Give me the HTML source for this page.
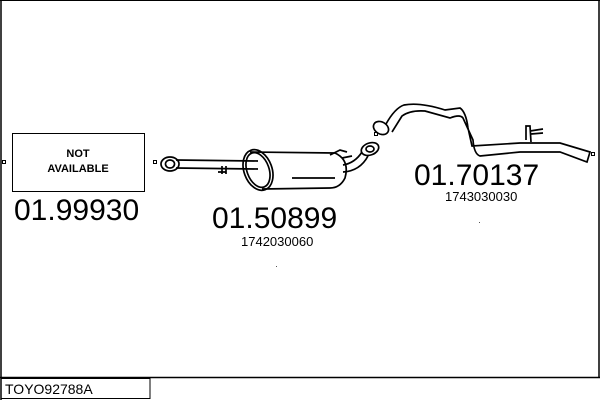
<!DOCTYPE html>
<html><head><style>body{margin:0;background:#fff}svg{display:block}</style></head><body>
<svg width="600" height="400" viewBox="0 0 600 400" xmlns="http://www.w3.org/2000/svg" font-family="Liberation Sans, Arial, sans-serif">
<rect x="0" y="0" width="600" height="400" fill="#fff"/>
<line x1="1" y1="0" x2="1" y2="400" stroke="#000" stroke-width="1.5"/>
<line x1="599" y1="0" x2="599" y2="378" stroke="#000" stroke-width="1.5"/>
<line x1="0" y1="0.5" x2="600" y2="0.5" stroke="#000"/>
<line x1="0" y1="377.5" x2="600" y2="377.5" stroke="#000" stroke-width="1.5"/>
<rect x="1" y="378.5" width="149" height="20" fill="none" stroke="#000"/>
<text x="5" y="394" font-size="14">TOYO92788A</text>

<rect x="12.5" y="133.5" width="132" height="58" fill="none" stroke="#000"/>
<text x="78" y="157" font-size="11" font-weight="bold" text-anchor="middle">NOT</text>
<text x="78" y="172" font-size="11" font-weight="bold" text-anchor="middle">AVAILABLE</text>
<rect x="2.5" y="160.5" width="3" height="3" fill="none" stroke="#000"/>
<rect x="153.5" y="160.5" width="3" height="3" fill="none" stroke="#000"/>
<rect x="591.5" y="152.5" width="3" height="3" fill="none" stroke="#000"/>
<rect x="374.5" y="132.5" width="3" height="3" fill="none" stroke="#000"/>
<text x="14" y="220" font-size="30">01.99930</text>
<text x="212" y="228" font-size="30">01.50899</text>
<text x="241" y="246" font-size="13">1742030060</text>
<text x="414" y="185" font-size="30">01.70137</text>
<text x="445" y="201" font-size="13">1743030030</text>
<rect x="276" y="266" width="1" height="1" fill="#555"/>
<rect x="479" y="222" width="1" height="1" fill="#555"/>

<g fill="none" stroke="#000" stroke-width="1.7">
<ellipse cx="170" cy="164" rx="9" ry="7"/>
<ellipse cx="170" cy="164" rx="4.5" ry="4"/>
<path d="M176 160 L258 161 M176 168 L258 169"/>
<path d="M222 166 l0 8 M226 166 l0 8 M218 172 l8 0"/>
<ellipse cx="258" cy="170" rx="14" ry="21" transform="rotate(-20 258 170)"/>
<ellipse cx="258" cy="170" rx="11" ry="18" transform="rotate(-20 258 170)"/>
<path d="M250 152 L335 153 Q350 160 345 178 Q340 188 330 188 L262 189"/>
<path d="M292 178 L335 178"/>
<path d="M330 155 L340 150 L347 152 M342 158 L352 156"/>
<path d="M343 165 Q355 163 362 152 M343 172 Q360 171 368 156"/>
<ellipse cx="370" cy="149" rx="9" ry="6" transform="rotate(-20 370 149)"/>
<ellipse cx="370" cy="149" rx="4" ry="3"/>
<ellipse cx="381" cy="128" rx="8" ry="6" transform="rotate(30 381 128)"/>
<path d="M386 124 Q395 108 404 105 Q420 102 445 110 L460 108 Q466 112 468 128 L472 146 L520 143 L560 143 L590 152 L587 162 L560 152 L520 152 L480 156 Q474 154 473 140 L463 118 Q460 114 450 118 L425 111 Q410 110 402 116 L392 132"/>
<path d="M526 140 L526 126 L530 126 L531 142 M530 131 L543 129 M531 134 L543 133"/>
</g>
</svg>
</body></html>
